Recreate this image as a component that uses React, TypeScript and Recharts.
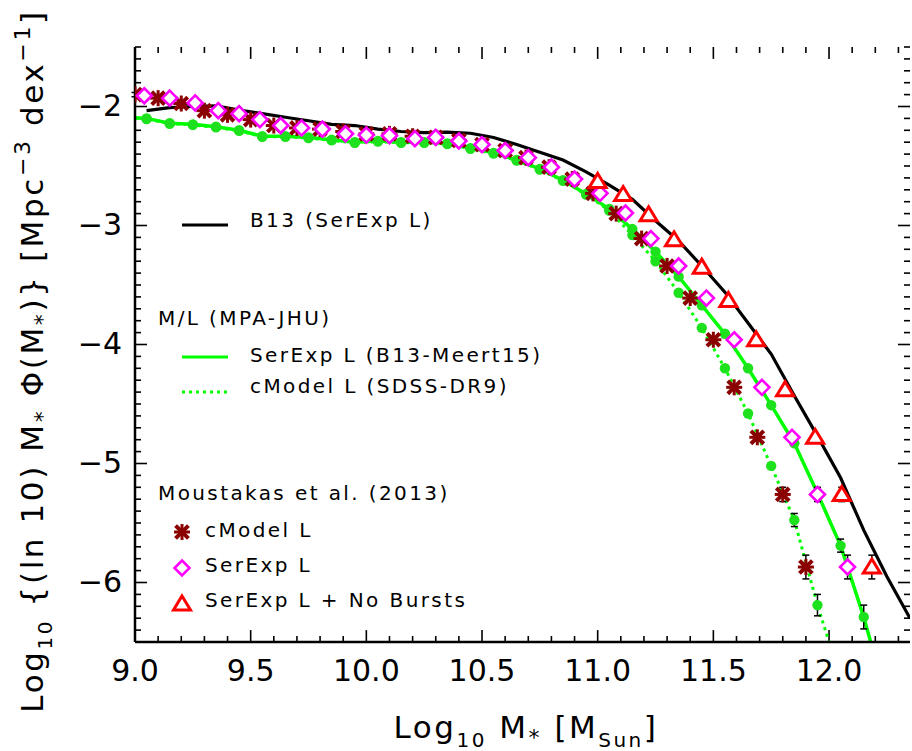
import React from 'react';
import { ComposedChart, Line, Scatter, XAxis, YAxis, ErrorBar, ReferenceLine } from 'recharts';

// B13 (SerExp L) curve
const b13Mass = [9.05, 9.15, 9.25, 9.35, 9.45, 9.55, 9.65, 9.75, 9.85, 9.95, 10.05, 10.15, 10.25, 10.35, 10.45, 10.55, 10.65, 10.75, 10.85, 10.95, 11.05, 11.15, 11.25, 11.35, 11.45, 11.55, 11.65, 11.75, 11.85, 11.95, 12.05, 12.15, 12.25, 12.35];
const b13Phi = [-2.035, -2.01, -2.0, -1.995, -2.03, -2.06, -2.09, -2.12, -2.15, -2.16, -2.19, -2.21, -2.22, -2.215, -2.225, -2.26, -2.32, -2.385, -2.45, -2.55, -2.66, -2.78, -2.96, -3.13, -3.34, -3.56, -3.82, -4.08, -4.43, -4.77, -5.12, -5.56, -5.95, -6.3];

// M/L (MPA-JHU), SerExp L (B13-Meert15): curve + points
const meertLineMass = [9.0, 9.05, 9.15, 9.25, 9.35, 9.45, 9.55, 9.65, 9.75, 9.85, 9.95, 10.05, 10.15, 10.25, 10.35, 10.45, 10.55, 10.65, 10.75, 10.85, 10.95, 11.05, 11.15, 11.25, 11.35, 11.45, 11.55, 11.65, 11.75, 11.85, 11.95, 12.05, 12.15, 12.18];
const meertLinePhi = [-2.095, -2.1, -2.14, -2.15, -2.17, -2.2, -2.25, -2.25, -2.26, -2.28, -2.3, -2.29, -2.3, -2.3, -2.31, -2.35, -2.39, -2.45, -2.525, -2.62, -2.735, -2.86, -3.03, -3.22, -3.43, -3.67, -3.91, -4.2, -4.51, -4.83, -5.25, -5.69, -6.29, -6.5];
const meertMass = [9.05, 9.15, 9.25, 9.35, 9.45, 9.55, 9.65, 9.75, 9.85, 9.95, 10.05, 10.15, 10.25, 10.35, 10.45, 10.55, 10.65, 10.75, 10.85, 10.95, 11.05, 11.15, 11.25, 11.35, 11.45, 11.55, 11.65, 11.75, 11.85, 11.95, 12.05, 12.15];
const meertPhi = [-2.1, -2.14, -2.15, -2.17, -2.2, -2.25, -2.25, -2.26, -2.28, -2.3, -2.29, -2.3, -2.3, -2.31, -2.35, -2.39, -2.45, -2.525, -2.62, -2.735, -2.86, -3.03, -3.22, -3.43, -3.67, -3.91, -4.2, -4.51, -4.83, -5.25, -5.69, -6.29];
const meertErr = [0.018, 0.018, 0.018, 0.018, 0.018, 0.018, 0.018, 0.018, 0.018, 0.018, 0.018, 0.018, 0.018, 0.018, 0.018, 0.018, 0.018, 0.018, 0.018, 0.018, 0.018, 0.018, 0.018, 0.018, 0.018, 0.018, 0.018, 0.018, 0.022, 0.03, 0.055, 0.1];

// M/L (MPA-JHU), cModel L (SDSS-DR9): curve + points
const dr9LineMass = [9.0, 9.05, 9.15, 9.25, 9.35, 9.45, 9.55, 9.65, 9.75, 9.85, 9.95, 10.05, 10.15, 10.25, 10.35, 10.45, 10.55, 10.65, 10.75, 10.85, 10.95, 11.05, 11.15, 11.25, 11.35, 11.45, 11.55, 11.65, 11.75, 11.85, 11.95, 12.0];
const dr9LinePhi = [-2.1, -2.105, -2.145, -2.155, -2.175, -2.205, -2.255, -2.255, -2.265, -2.285, -2.305, -2.295, -2.305, -2.305, -2.315, -2.355, -2.395, -2.455, -2.53, -2.625, -2.74, -2.875, -3.08, -3.3, -3.565, -3.86, -4.2, -4.58, -5.02, -5.475, -6.19, -6.5];
const dr9Mass = [9.05, 9.15, 9.25, 9.35, 9.45, 9.55, 9.65, 9.75, 9.85, 9.95, 10.05, 10.15, 10.25, 10.35, 10.45, 10.55, 10.65, 10.75, 10.85, 10.95, 11.05, 11.15, 11.25, 11.35, 11.45, 11.55, 11.65, 11.75, 11.85, 11.95];
const dr9Phi = [-2.105, -2.145, -2.155, -2.175, -2.205, -2.255, -2.255, -2.265, -2.285, -2.305, -2.295, -2.305, -2.305, -2.315, -2.355, -2.395, -2.455, -2.53, -2.625, -2.74, -2.875, -3.08, -3.3, -3.565, -3.86, -4.2, -4.58, -5.02, -5.475, -6.19];
const dr9Err = [0.018, 0.018, 0.018, 0.018, 0.018, 0.018, 0.018, 0.018, 0.018, 0.018, 0.018, 0.018, 0.018, 0.018, 0.018, 0.018, 0.018, 0.018, 0.018, 0.018, 0.018, 0.018, 0.018, 0.018, 0.018, 0.018, 0.018, 0.022, 0.055, 0.09];

// Moustakas et al. (2013)
const cmodelMass = [9.0, 9.1, 9.2, 9.3, 9.4, 9.5, 9.6, 9.7, 9.8, 9.9, 10.0, 10.1, 10.2, 10.3, 10.4, 10.5, 10.6, 10.69, 10.79, 10.89, 10.98, 11.08, 11.19, 11.3, 11.4, 11.5, 11.59, 11.69, 11.8, 11.9];
const cmodelPhi = [-1.9, -1.93, -1.975, -2.035, -2.07, -2.11, -2.16, -2.18, -2.19, -2.21, -2.23, -2.23, -2.25, -2.26, -2.285, -2.32, -2.37, -2.43, -2.51, -2.61, -2.73, -2.9, -3.11, -3.34, -3.61, -3.96, -4.36, -4.78, -5.26, -5.87];
const serexpMass = [9.04, 9.15, 9.26, 9.36, 9.45, 9.54, 9.63, 9.72, 9.81, 9.91, 10.0, 10.1, 10.21, 10.3, 10.4, 10.5, 10.6, 10.7, 10.8, 10.9, 11.01, 11.12, 11.23, 11.35, 11.47, 11.59, 11.71, 11.84, 11.95, 12.08];
const serexpPhi = [-1.91, -1.93, -1.97, -2.035, -2.06, -2.11, -2.16, -2.18, -2.19, -2.23, -2.24, -2.245, -2.27, -2.26, -2.29, -2.32, -2.37, -2.43, -2.51, -2.61, -2.73, -2.895, -3.11, -3.34, -3.61, -3.96, -4.36, -4.78, -5.26, -5.87];
const moustakasErr = [0.018, 0.018, 0.018, 0.018, 0.018, 0.018, 0.018, 0.018, 0.018, 0.018, 0.018, 0.018, 0.018, 0.018, 0.018, 0.018, 0.018, 0.018, 0.018, 0.018, 0.018, 0.018, 0.018, 0.018, 0.018, 0.018, 0.022, 0.03, 0.06, 0.1];
const noBurstMass = [11.0, 11.11, 11.22, 11.33, 11.45, 11.565, 11.685, 11.81, 11.94, 12.055, 12.185];
const noBurstPhi = [-2.63, -2.74, -2.91, -3.12, -3.35, -3.63, -3.96, -4.38, -4.78, -5.26, -5.87];
const noBurstErr = [0.018, 0.018, 0.018, 0.018, 0.018, 0.018, 0.018, 0.022, 0.03, 0.06, 0.1];

const xMajor = [9.0, 9.5, 10.0, 10.5, 11.0, 11.5, 12.0];
const yMajor = [-6, -5, -4, -3, -2];

const X_DOMAIN: [number, number] = [9, 12.35];
const Y_DOMAIN: [number, number] = [-6.5, -1.5];

// minor ticks every 0.1 on both axes
const xMinor = Array.from({ length: 34 }, (_, i) => Math.round((9 + i * 0.1) * 10) / 10);
const yMinor = Array.from({ length: 51 }, (_, i) => Math.round((-6.5 + i * 0.1) * 10) / 10);

const pts = (xs: number[], ys: number[], es?: number[]) =>
  xs.map((x, i) => ({ x, y: ys[i], e: es ? es[i] : 0 }));

const b13Data = pts(b13Mass, b13Phi);
const meertLine = pts(meertLineMass, meertLinePhi);
const meertPts = pts(meertMass, meertPhi, meertErr);
const dr9Line = pts(dr9LineMass, dr9LinePhi);
const dr9Pts = pts(dr9Mass, dr9Phi, dr9Err);
const cmodelPts = pts(cmodelMass, cmodelPhi, moustakasErr);
const serexpPts = pts(serexpMass, serexpPhi, moustakasErr);
const noBurstPts = pts(noBurstMass, noBurstPhi, noBurstErr);

const FONT = "'DejaVu Sans', 'Liberation Sans', sans-serif";
const GREEN = '#00ff00';
const DOT_GREEN = '#1ee11e';
const MAROON = '#8b0000';
const MAGENTA = '#ff00ff';
const RED = '#ff0000';

const frame = { stroke: '#000', strokeWidth: 2.5 };
const isMajor = (v: number, list: number[]) => list.some((m) => Math.abs(m - v) < 1e-6);

// tick lengths in data units (ticks point inwards)
const X_TICK_MAJOR = 0.1;
const X_TICK_MINOR = 0.05;
const Y_TICK_MAJOR = 0.052;
const Y_TICK_MINOR = 0.026;

const BottomLabel = (props: any) => {
  const { x, y, payload } = props;
  return (
    <text x={x} y={y + 39} textAnchor="middle" fontFamily={FONT} fontSize={30} fill="#000">
      {payload.value.toFixed(1)}
    </text>
  );
};

const LeftLabel = (props: any) => {
  const { x, y, payload } = props;
  return (
    <text x={x - 13} y={y + 9} textAnchor="end" fontFamily={FONT} fontSize={30} fill="#000">
      {'\u2212' + Math.abs(payload.value)}
    </text>
  );
};

const CrossMark = ({ cx, cy }: any) => (
  <g stroke={MAROON} strokeLinecap="square">
    <line x1={cx - 5} y1={cy - 5} x2={cx + 5} y2={cy + 5} strokeWidth={4} />
    <line x1={cx - 5} y1={cy + 5} x2={cx + 5} y2={cy - 5} strokeWidth={4} />
    <line x1={cx - 6.5} y1={cy} x2={cx + 6.5} y2={cy} strokeWidth={3} />
    <line x1={cx} y1={cy - 6.5} x2={cx} y2={cy + 6.5} strokeWidth={3} />
  </g>
);

const DiamondMark = ({ cx, cy }: any) => (
  <path
    d={`M${cx},${cy - 7.5} L${cx + 7.5},${cy} L${cx},${cy + 7.5} L${cx - 7.5},${cy} Z`}
    fill="#fff"
    stroke={MAGENTA}
    strokeWidth={2.6}
  />
);

const TriangleMark = ({ cx, cy }: any) => (
  <path
    d={`M${cx},${cy - 8} L${cx + 8.5},${cy + 6} L${cx - 8.5},${cy + 6} Z`}
    fill="#fff"
    stroke={RED}
    strokeWidth={3}
  />
);

const CircleMark = ({ cx, cy }: any) => <circle cx={cx} cy={cy} r={5.2} fill={DOT_GREEN} />;

const NoMark = () => <g />;

const errBar = <ErrorBar dataKey="e" direction="y" width={3.5} stroke="#000" strokeWidth={1.5} />;

const tickLine = (key: string, a: { x: number; y: number }, b: { x: number; y: number }) => (
  <ReferenceLine key={key} segment={[a, b]} stroke="#000" strokeWidth={1.6} ifOverflow="visible" />
);

export default function App() {
  const [x0, x1] = X_DOMAIN;
  const [y0, y1] = Y_DOMAIN;
  return (
    <div style={{ position: 'absolute', left: 0, top: 0, width: 912, height: 751, background: '#fff' }}>
      <ComposedChart width={912} height={751} margin={{ top: 47, right: 2, bottom: 49, left: 65 }}>
        <XAxis dataKey="x" type="number" domain={X_DOMAIN} allowDataOverflow ticks={xMajor} interval={0}
          tickSize={0} tickMargin={0} tickLine={false} tick={<BottomLabel />} axisLine={frame} height={60} />
        <XAxis xAxisId="top" orientation="top" type="number" domain={X_DOMAIN} allowDataOverflow ticks={xMajor}
          interval={0} tickSize={0} tickMargin={0} tickLine={false} tick={<NoMark />} axisLine={frame} height={0} />
        <YAxis dataKey="y" type="number" domain={Y_DOMAIN} allowDataOverflow ticks={yMajor} interval={0}
          tickSize={0} tickMargin={0} tickLine={false} tick={<LeftLabel />} axisLine={frame} width={70} />
        <YAxis yAxisId="right" orientation="right" type="number" domain={Y_DOMAIN} allowDataOverflow ticks={yMajor}
          interval={0} tickSize={0} tickMargin={0} tickLine={false} tick={<NoMark />} axisLine={frame} width={0} />

        {xMinor.map((v) => {
          const len = isMajor(v, xMajor) ? X_TICK_MAJOR : X_TICK_MINOR;
          return [
            tickLine(`b${v}`, { x: v, y: y0 }, { x: v, y: y0 + len }),
            tickLine(`t${v}`, { x: v, y: y1 }, { x: v, y: y1 - len }),
          ];
        })}
        {yMinor.map((v) => {
          const len = isMajor(v, yMajor) ? Y_TICK_MAJOR : Y_TICK_MINOR;
          return [
            tickLine(`l${v}`, { x: x0, y: v }, { x: x0 + len, y: v }),
            tickLine(`r${v}`, { x: x1, y: v }, { x: x1 - len, y: v }),
          ];
        })}

        <Line data={dr9Line} dataKey="y" stroke={GREEN} strokeWidth={3} strokeDasharray="3 4" dot={false} isAnimationActive={false} />
        <Line data={meertLine} dataKey="y" stroke={GREEN} strokeWidth={3.5} dot={false} isAnimationActive={false} />
        <Line data={b13Data} dataKey="y" stroke="#000" strokeWidth={3.2} dot={false} isAnimationActive={false} />

        <Scatter data={dr9Pts} shape={<CircleMark />} isAnimationActive={false} />
        <Scatter data={meertPts} shape={<CircleMark />} isAnimationActive={false} />
        <Scatter data={cmodelPts} shape={<CrossMark />} isAnimationActive={false} />
        <Scatter data={serexpPts} shape={<DiamondMark />} isAnimationActive={false} />
        <Scatter data={noBurstPts} shape={<TriangleMark />} isAnimationActive={false} />

        <Scatter data={dr9Pts} shape={<NoMark />} isAnimationActive={false}>{errBar}</Scatter>
        <Scatter data={meertPts} shape={<NoMark />} isAnimationActive={false}>{errBar}</Scatter>
        <Scatter data={cmodelPts} shape={<NoMark />} isAnimationActive={false}>{errBar}</Scatter>
        <Scatter data={serexpPts} shape={<NoMark />} isAnimationActive={false}>{errBar}</Scatter>
        <Scatter data={noBurstPts} shape={<NoMark />} isAnimationActive={false}>{errBar}</Scatter>
      </ComposedChart>

      <svg width={912} height={751} style={{ position: 'absolute', left: 0, top: 0, pointerEvents: 'none' }}>
        <g fontFamily={FONT} fill="#000" fontSize={20} letterSpacing={2.4}>
          <line x1={182} x2={228} y1={225} y2={225} stroke="#000" strokeWidth={3} />
          <text x={250} y={227}>B13 (SerExp L)</text>

          <text x={158} y={325}>M/L (MPA-JHU)</text>
          <line x1={182} x2={228} y1={357} y2={357} stroke={GREEN} strokeWidth={3} />
          <text x={250} y={362}>SerExp L (B13-Meert15)</text>
          <line x1={182} x2={228} y1={392} y2={392} stroke={GREEN} strokeWidth={3} strokeDasharray="3 4" />
          <text x={250} y={393}>cModel L (SDSS-DR9)</text>

          <text x={158} y={500}>Moustakas et al. (2013)</text>
          <CrossMark cx={182} cy={532} />
          <text x={205} y={537}>cModel L</text>
          <DiamondMark cx={182} cy={568} />
          <text x={205} y={572}>SerExp L</text>
          <TriangleMark cx={182} cy={604} />
          <text x={205} y={607}>SerExp L + No Bursts</text>
        </g>

        <text x={526} y={738} textAnchor="middle" fontFamily={FONT} fontSize={31} fill="#000" letterSpacing={2.5}>
          Log<tspan dy={9} fontSize={20}>10</tspan>
          <tspan dy={-9}> M</tspan>
          <tspan dy={7} fontSize={22}>*</tspan>
          <tspan dy={-7}> [M</tspan>
          <tspan dy={9} fontSize={20}>Sun</tspan>
          <tspan dy={-9}>]</tspan>
        </text>

        <text
          transform="translate(43,361) rotate(-90)"
          textAnchor="middle"
          fontFamily={FONT}
          fontSize={31}
          fill="#000"
          letterSpacing={2.6}
        >
          Log<tspan dy={9} fontSize={20}>10</tspan>
          <tspan dy={-9}> {'{'}(ln 10) M</tspan>
          <tspan dy={7} fontSize={22}>*</tspan>
          <tspan dy={-7}> {'\u03A6'}(M</tspan>
          <tspan dy={7} fontSize={22}>*</tspan>
          <tspan dy={-7}>){'}'} [Mpc</tspan>
          <tspan dy={-13} fontSize={22}>{'\u22123'}</tspan>
          <tspan dy={13}> dex</tspan>
          <tspan dy={-13} fontSize={22}>{'\u22121'}</tspan>
          <tspan dy={13}>]</tspan>
        </text>
      </svg>
    </div>
  );
}
